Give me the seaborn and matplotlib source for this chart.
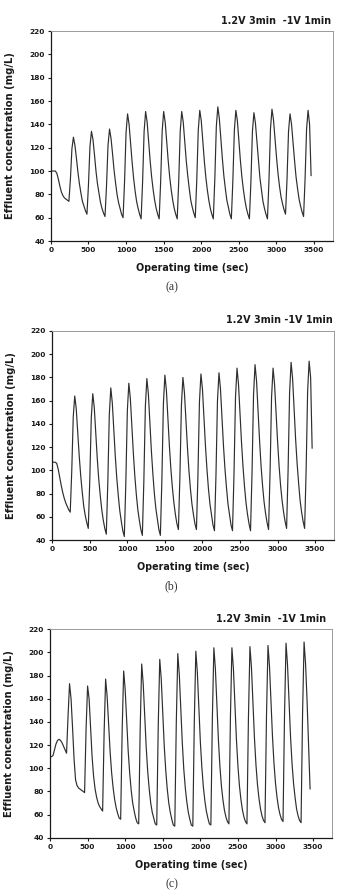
import numpy as np
import pandas as pd
import matplotlib
matplotlib.use('Agg')
import matplotlib.pyplot as plt
import seaborn as sns

# one reading every 20 sec
time_sec = np.arange(0, 3461, 20)

# effluent concentration (mg/L), rows of 12 readings = one 240 s cycle
conc_a = [100, 100, 100, 100, 98, 93, 87, 82, 79, 77, 76, 75,
          74, 93, 119, 129, 122, 111, 99, 89, 81, 74, 70, 66,
          63, 88, 121, 134, 127, 114, 100, 89, 81, 73, 68, 64,
          61, 87, 122, 136, 128, 115, 101, 90, 80, 73, 68, 63,
          60, 91, 133, 149, 140, 124, 108, 94, 83, 74, 68, 63,
          59, 91, 134, 151, 142, 125, 109, 95, 84, 75, 68, 63,
          59, 91, 134, 151, 142, 125, 109, 95, 84, 75, 68, 63,
          59, 91, 134, 151, 142, 126, 109, 96, 85, 75, 69, 64,
          60, 92, 135, 152, 143, 126, 109, 95, 84, 75, 68, 63,
          59, 93, 138, 155, 145, 128, 111, 96, 85, 75, 69, 63,
          59, 92, 135, 152, 143, 126, 109, 95, 84, 75, 68, 63,
          59, 91, 134, 150, 141, 125, 108, 94, 84, 74, 68, 63,
          59, 92, 136, 153, 144, 128, 112, 98, 87, 78, 72, 67,
          63, 93, 134, 149, 140, 124, 109, 95, 85, 76, 70, 65,
          61, 93, 136, 152, 140, 96]

conc_b = [107, 107, 107, 106, 101, 94, 87, 81, 76, 72, 69, 66,
          64, 99, 146, 164, 153, 132, 112, 95, 81, 69, 61, 55,
          50, 91, 145, 166, 154, 132, 110, 92, 78, 66, 57, 50,
          45, 89, 148, 171, 158, 135, 112, 93, 78, 65, 56, 48,
          43, 89, 151, 175, 162, 138, 115, 95, 79, 66, 57, 49,
          44, 91, 155, 179, 166, 141, 117, 97, 80, 67, 58, 49,
          44, 92, 157, 182, 169, 145, 121, 101, 85, 72, 62, 54,
          49, 95, 156, 180, 167, 143, 120, 100, 84, 71, 62, 54,
          49, 96, 159, 183, 170, 145, 121, 101, 84, 71, 62, 53,
          48, 96, 160, 184, 170, 146, 121, 101, 85, 71, 62, 53,
          48, 97, 163, 188, 174, 149, 124, 103, 86, 72, 62, 54,
          48, 98, 165, 191, 177, 151, 126, 104, 87, 73, 63, 55,
          49, 98, 163, 188, 174, 149, 125, 104, 87, 74, 64, 56,
          50, 100, 167, 193, 179, 153, 127, 106, 89, 74, 64, 56,
          50, 100, 168, 194, 180, 119]

conc_c = [110, 110, 111, 116, 121, 124, 125, 124, 122, 119, 116, 113,
          145, 173, 160, 135, 108, 90, 85, 83, 82, 81, 80, 79,
          134, 171, 160, 135, 110, 93, 82, 75, 70, 67, 65, 63,
          131, 177, 162, 138, 114, 96, 83, 73, 66, 61, 57, 56,
          133, 184, 168, 142, 115, 96, 81, 70, 63, 57, 53, 52,
          135, 190, 173, 146, 118, 97, 82, 70, 62, 57, 52, 51,
          137, 194, 177, 148, 119, 98, 82, 70, 62, 56, 51, 50,
          139, 199, 181, 151, 122, 99, 83, 71, 62, 56, 51, 50,
          141, 201, 183, 153, 123, 101, 84, 72, 63, 57, 52, 51,
          143, 204, 186, 155, 125, 102, 85, 73, 64, 58, 54, 52,
          143, 204, 186, 155, 125, 102, 85, 73, 64, 58, 54, 52,
          144, 205, 187, 156, 126, 103, 86, 74, 65, 59, 55, 53,
          145, 206, 188, 157, 127, 104, 87, 75, 66, 60, 56, 54,
          146, 208, 189, 158, 127, 104, 87, 75, 65, 59, 55, 53,
          147, 209, 190, 158, 120, 82]

titles = ['1.2V 3min  -1V 1min', '1.2V 3min -1V 1min', '1.2V 3min  -1V 1min']
tags = ['(a)', '(b)', '(c)']
x_ticks = list(range(0, 3501, 500))
y_ticks = list(range(40, 221, 20))

sns.set_style('ticks')
plt.rcParams['font.family'] = ['DejaVu Sans']

fig = plt.figure(figsize=(3.39, 8.96), dpi=100)

# axes boxes [left, bottom, width, height], title xy, tag y
boxes = [[0.150, 0.731, 0.832, 0.2344], [0.154, 0.3973, 0.831, 0.2333], [0.1475, 0.065, 0.8315, 0.2327]]
title_xy = [(0.9755, 0.9766), (0.983, 0.6429), (0.962, 0.3092)]
tag_y = [0.6797, 0.346, 0.013]

for i, conc in enumerate([conc_a, conc_b, conc_c]):
    df = pd.DataFrame({'time': time_sec, 'conc': conc})
    ax = fig.add_axes(boxes[i])
    sns.lineplot(data=df, x='time', y='conc', ax=ax, color='#2e2e2e', lw=0.85)
    ax.set_xlim(0, 3750)
    ax.set_ylim(40, 220)
    ax.set_xticks(x_ticks)
    ax.set_yticks(y_ticks)
    ax.tick_params(length=2.5, width=0.8, pad=2, labelsize=5.3, colors='#1a1a1a')
    for lab in ax.get_xticklabels() + ax.get_yticklabels():
        lab.set_fontweight('bold')
    for side in ['left', 'bottom']:
        ax.spines[side].set_color('#1a1a1a')
        ax.spines[side].set_linewidth(0.9)
    for side in ['top', 'right']:
        ax.spines[side].set_visible(True)
        ax.spines[side].set_color('#9a9a9a')
        ax.spines[side].set_linewidth(0.7)
    ax.set_xlabel('Operating time (sec)', fontsize=6.9, fontweight='bold', color='#1a1a1a')
    ax.set_ylabel('Effluent concentration (mg/L)', fontsize=7.2, fontweight='bold', color='#1a1a1a')
    ax.xaxis.set_label_coords(0.5, -0.105)
    ax.yaxis.set_label_coords(-0.128, 0.5)
    fig.text(title_xy[i][0], title_xy[i][1], titles[i], ha='right', va='center',
             fontsize=6.9, fontweight='bold', color='#1a1a1a')
    fig.text(0.5065, tag_y[i], tags[i], ha='center', va='center', fontsize=8.5,
             family='Liberation Serif', color='#333333')

plt.savefig('out.png', dpi=100)
plt.close()
